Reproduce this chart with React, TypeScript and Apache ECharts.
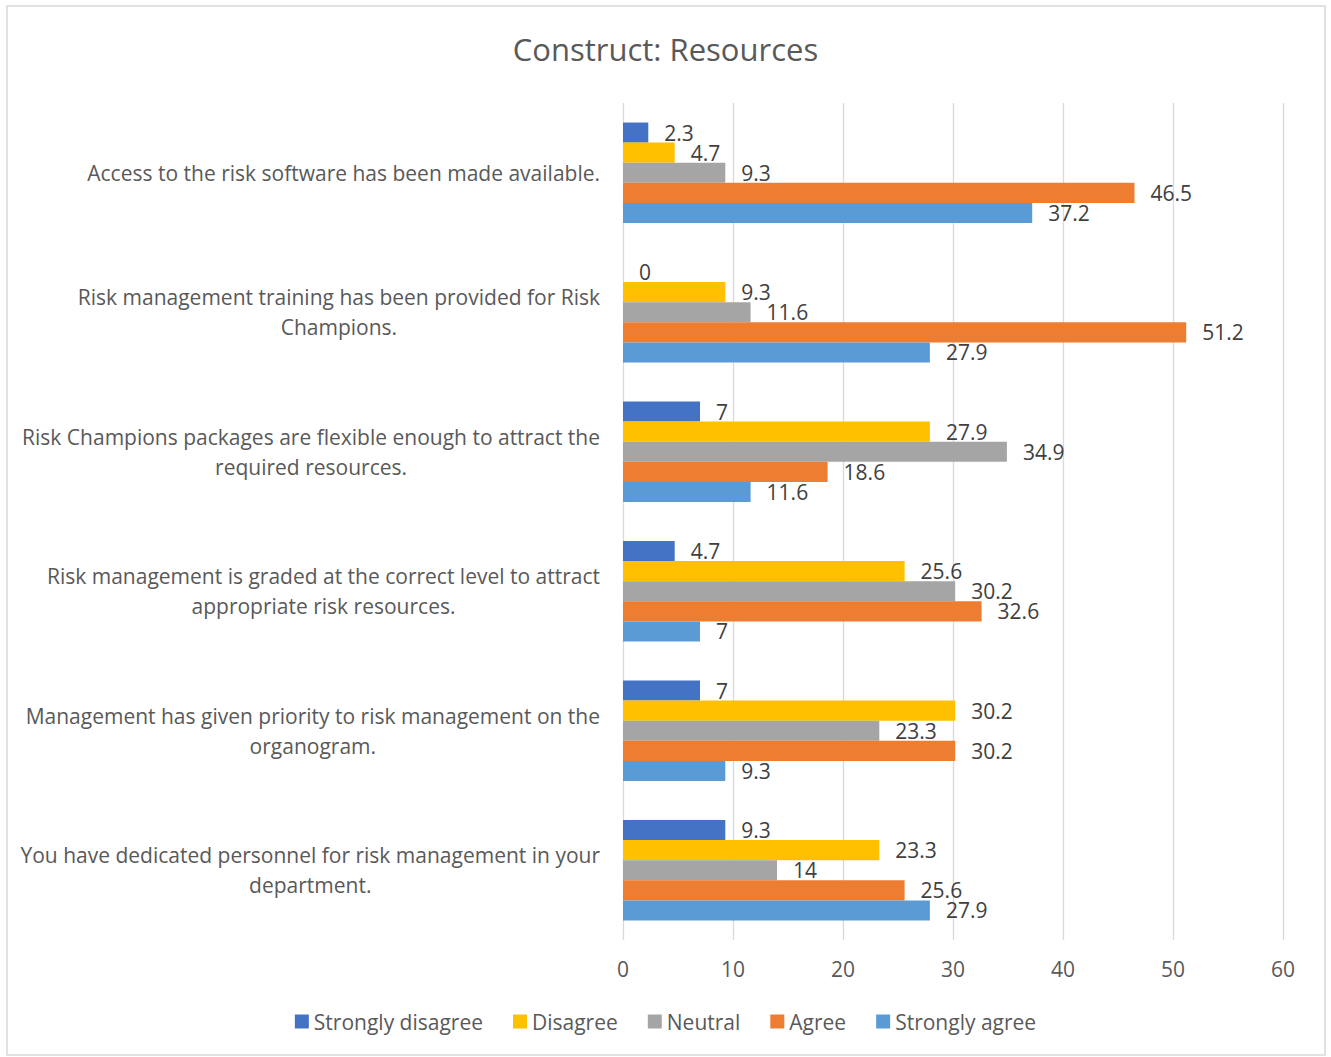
import React, { useEffect, useRef } from "react";
import * as echarts from "echarts";

const categories = [
  "Access to the risk software has been made available.",
  "Risk management training has been provided for Risk\nChampions.",
  "Risk Champions packages are flexible enough to attract the\nrequired resources.",
  "Risk management is graded at the correct level to attract\nappropriate risk resources.",
  "Management has given priority to risk management on the\norganogram.",
  "You have dedicated personnel for risk management in your\ndepartment.",
];

const seriesNames = ["Strongly disagree", "Disagree", "Neutral", "Agree", "Strongly agree"];
const seriesColors = ["#4472C4", "#FFC000", "#A5A5A5", "#ED7D31", "#5B9BD5"];

const stronglyDisagree = [2.3, 0, 7, 4.7, 7, 9.3];
const disagree = [4.7, 9.3, 27.9, 25.6, 30.2, 23.3];
const neutral = [9.3, 11.6, 34.9, 30.2, 23.3, 14];
const agree = [46.5, 51.2, 18.6, 32.6, 30.2, 25.6];
const stronglyAgree = [37.2, 27.9, 11.6, 7, 9.3, 27.9];

const seriesData = [stronglyDisagree, disagree, neutral, agree, stronglyAgree];

const FONT = "'Open Sans', sans-serif";

export default function App() {
  const ref = useRef<HTMLDivElement>(null);

  useEffect(() => {
    document.body.style.margin = "0";
    if (!ref.current) return;
    const chart = echarts.init(ref.current, undefined, { renderer: "svg" });
    chart.setOption({
      animation: false,
      backgroundColor: "#ffffff",
      textStyle: { fontFamily: FONT },
      title: {
        text: "Construct: Resources",
        left: "center",
        top: 28,
        textStyle: { fontFamily: FONT, fontSize: 31, fontWeight: "normal", color: "#595959" },
      },
      graphic: [
        {
          type: "rect",
          shape: { x: 7, y: 6, width: 1318, height: 1049 },
          style: { fill: "none", stroke: "#d9d9d9", lineWidth: 1.5 },
          silent: true,
        },
      ],
      legend: {
        bottom: 20,
        left: "center",
        itemWidth: 14,
        itemHeight: 14,
        itemGap: 30,
        icon: "rect",
        textStyle: { fontFamily: FONT, fontSize: 21, color: "#595959" },
        data: seriesNames,
      },
      grid: { left: 623, right: 48, top: 103, bottom: 117, containLabel: false },
      xAxis: {
        type: "value",
        min: 0,
        max: 60,
        interval: 10,
        axisLine: { show: false },
        axisTick: { show: false },
        splitLine: { show: true, lineStyle: { color: "#d9d9d9", width: 1.3 } },
        axisLabel: { fontFamily: FONT, fontSize: 21, color: "#595959", margin: 18 },
      },
      yAxis: {
        type: "category",
        inverse: true,
        data: categories,
        axisLine: { show: false },
        axisTick: { show: false },
        axisLabel: {
          fontFamily: FONT,
          fontSize: 21,
          color: "#595959",
          margin: 23,
          lineHeight: 30,
          align: "right",
          formatter: (v: string) =>
            v
              .split("\n")
              .map((s) => `{c|${s}}`)
              .join("\n"),
          rich: {
            c: {
              fontFamily: FONT,
              fontSize: 21,
              color: "#595959",
              lineHeight: 30,
              align: "center",
            },
          },
        },
      },
      series: seriesNames.map((name, i) => ({
        name,
        type: "bar",
        data: seriesData[i],
        barGap: "0%",
        barCategoryGap: "28%",
        itemStyle: { color: seriesColors[i] },
        label: {
          show: true,
          position: "right",
          distance: 16,
          fontFamily: FONT,
          fontSize: 21,
          color: "#404040",
        },
      })),
    });
    return () => chart.dispose();
  }, []);

  return <div ref={ref} style={{ width: 1331, height: 1057 }} />;
}
